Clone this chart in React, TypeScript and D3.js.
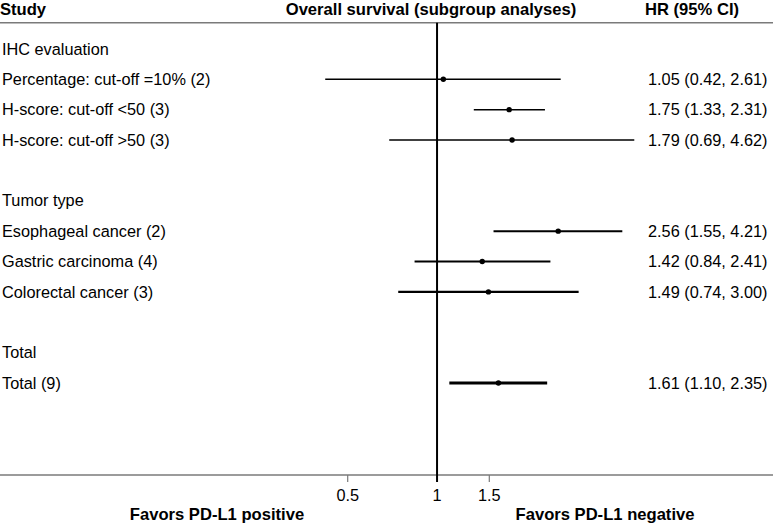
import React, { useEffect } from "react";
import * as d3 from "d3";

const rowLabels = [
  "IHC evaluation",
  "Percentage: cut-off =10% (2)",
  "H-score: cut-off <50 (3)",
  "H-score: cut-off >50 (3)",
  "",
  "Tumor type",
  "Esophageal cancer (2)",
  "Gastric carcinoma (4)",
  "Colorectal cancer (3)",
  "",
  "Total",
  "Total (9)",
];
const hrValues: (number | null)[] = [null, 1.05, 1.75, 1.79, null, null, 2.56, 1.42, 1.49, null, null, 1.61];
const lowerCI: (number | null)[] = [null, 0.42, 1.33, 0.69, null, null, 1.55, 0.84, 0.74, null, null, 1.1];
const upperCI: (number | null)[] = [null, 2.61, 2.31, 4.62, null, null, 4.21, 2.41, 3.0, null, null, 2.35];
const tickValues = [0.5, 1, 1.5];
const headers = ["Study", "Overall survival (subgroup analyses)", "HR (95% CI)"];
const favorLabels = ["Favors PD-L1 positive", "Favors PD-L1 negative"];

// styling (not data)
const lineWidths = [0, 1.3, 1.5, 1.3, 0, 0, 2, 2, 2.2, 0, 0, 3];

const W = 773;
const H = 525;
const FONT = "'Liberation Sans', Arial, Helvetica, sans-serif";
const FS = 16.3;
const FSB = 16.6;

export default function App() {
  useEffect(() => {
    document.body.style.margin = "0";
  }, []);

  const x = d3.scaleLog().domain([0.5, 1.5]).range([347.7, 489.3]);
  const y = d3.scaleLinear().domain([0, 11]).range([48.9, 383]);
  const fmt = d3.format(".2f");
  const headerLineY = 22.7;
  const axisY = 475;

  return (
    <svg width={W} height={H} style={{ display: "block", background: "#fff" }} fontFamily={FONT}>
      {/* header */}
      <text x={0} y={9.5} dy="0.35em" fontSize={FSB} fontWeight="bold">{headers[0]}</text>
      <text x={431} y={9.5} dy="0.35em" fontSize={FSB} fontWeight="bold" textAnchor="middle">{headers[1]}</text>
      <text x={645} y={9.5} dy="0.35em" fontSize={FSB} fontWeight="bold">{headers[2]}</text>
      <line x1={0} x2={W} y1={headerLineY} y2={headerLineY} stroke="#7a7a7a" strokeWidth={1.5} />

      {/* axis */}
      <line x1={0} x2={W} y1={axisY} y2={axisY} stroke="#7a7a7a" strokeWidth={1.5} />
      {tickValues.map((t) => (
        <g key={t}>
          {t !== 1 && (
            <line x1={x(t)} x2={x(t)} y1={axisY} y2={axisY + 7} stroke="#7a7a7a" strokeWidth={1.2} />
          )}
          <text x={x(t)} y={495.5} dy="0.35em" fontSize={FS} textAnchor="middle">{String(t)}</text>
        </g>
      ))}
      {/* reference line */}
      <line x1={x(1)} x2={x(1)} y1={headerLineY} y2={axisY + 7} stroke="#000" strokeWidth={2} />

      {/* favors */}
      <text x={217} y={514} dy="0.35em" fontSize={FSB} fontWeight="bold" textAnchor="middle">{favorLabels[0]}</text>
      <text x={605} y={514} dy="0.35em" fontSize={FSB} fontWeight="bold" textAnchor="middle">{favorLabels[1]}</text>

      {/* rows */}
      {rowLabels.map((lab, i) => {
        const hr = hrValues[i];
        const lo = lowerCI[i];
        const hi = upperCI[i];
        return (
          <g key={i}>
            {lab && (
              <text x={2} y={y(i)} dy="0.35em" fontSize={FS}>{lab}</text>
            )}
            {hr != null && lo != null && hi != null && (
              <>
                <line x1={x(lo)} x2={x(hi)} y1={y(i)} y2={y(i)} stroke="#000" strokeWidth={lineWidths[i]} />
                <circle cx={x(hr)} cy={y(i)} r={2.7} fill="#000" />
                <text x={648} y={y(i)} dy="0.35em" fontSize={FS}>
                  {`${fmt(hr)} (${fmt(lo)}, ${fmt(hi)})`}
                </text>
              </>
            )}
          </g>
        );
      })}
    </svg>
  );
}
